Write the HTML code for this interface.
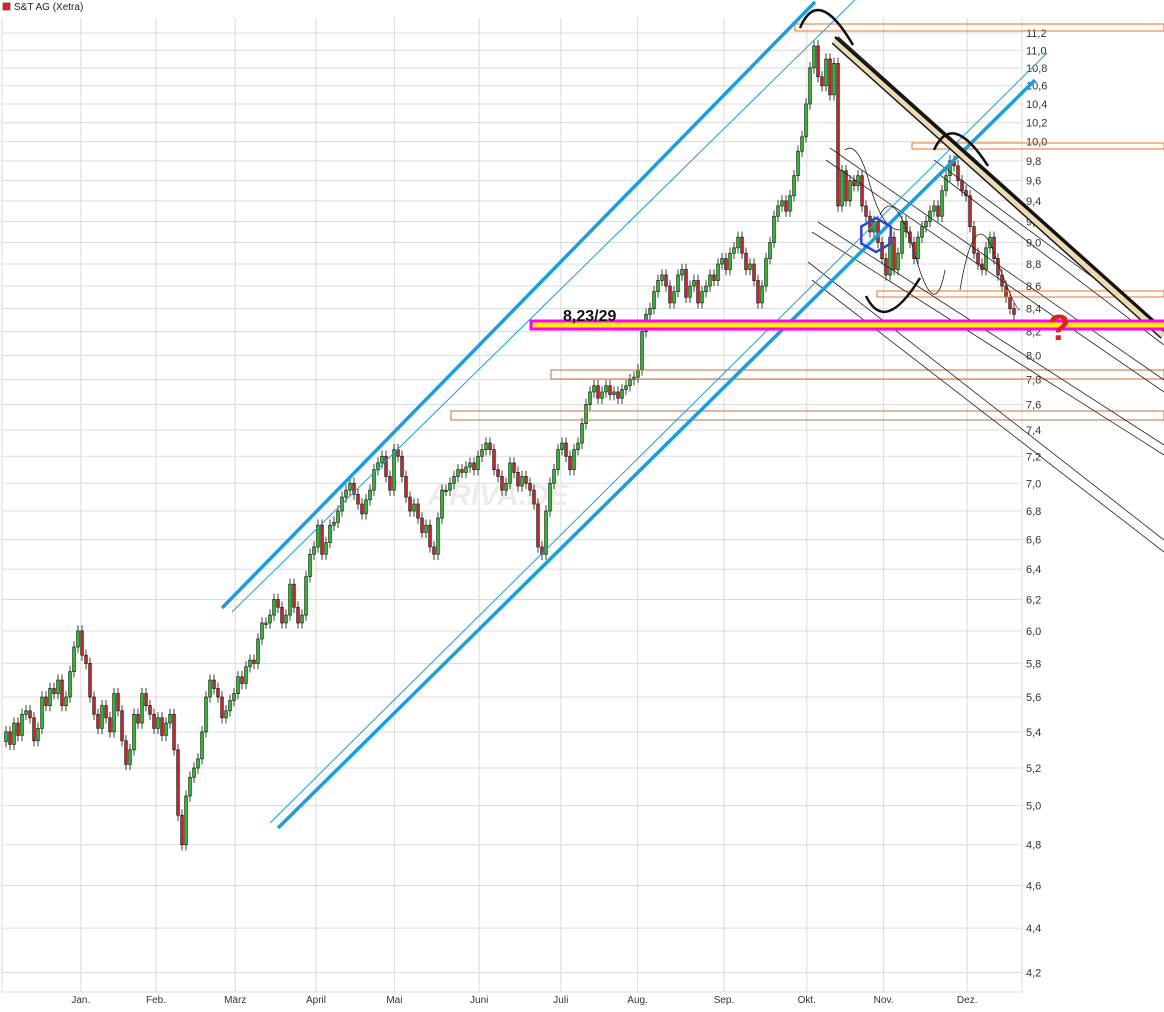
<!DOCTYPE html>
<html><head><meta charset="utf-8"><style>
body{margin:0;background:#fff;}
svg{display:block;font-family:"Liberation Sans",sans-serif;}
</style></head><body>
<svg id="c" width="1164" height="1012" xmlns="http://www.w3.org/2000/svg"></svg>
<script>
const closes=[5.40,5.33,5.45,5.38,5.50,5.52,5.48,5.35,5.42,5.60,
5.55,5.65,5.62,5.70,5.55,5.60,5.75,5.90,6.00,5.85,
5.80,5.60,5.50,5.42,5.55,5.48,5.40,5.62,5.52,5.35,
5.22,5.30,5.50,5.45,5.62,5.55,5.50,5.42,5.48,5.38,
5.45,5.50,5.30,4.95,4.80,5.05,5.15,5.20,5.25,5.40,
5.60,5.70,5.65,5.60,5.48,5.52,5.58,5.62,5.72,5.68,
5.78,5.82,5.80,5.95,6.05,6.05,6.10,6.20,6.15,6.05,
6.10,6.30,6.15,6.05,6.10,6.35,6.50,6.55,6.70,6.50,
6.58,6.70,6.72,6.80,6.90,6.95,7.00,6.92,6.85,6.78,
6.88,6.95,7.10,7.15,7.20,7.05,6.95,7.25,7.20,7.05,
6.90,6.80,6.85,6.75,6.65,6.70,6.55,6.50,6.75,6.95,
6.95,7.00,7.05,7.10,7.08,7.12,7.15,7.10,7.20,7.25,
7.30,7.25,7.10,7.05,6.95,7.00,7.15,7.08,6.98,7.05,
7.00,6.95,6.85,6.55,6.50,6.80,7.00,7.10,7.25,7.30,
7.20,7.10,7.25,7.30,7.45,7.60,7.70,7.75,7.65,7.70,
7.75,7.68,7.70,7.65,7.72,7.75,7.80,7.82,7.88,8.20,
8.35,8.40,8.55,8.65,8.70,8.60,8.45,8.55,8.70,8.75,
8.50,8.60,8.65,8.45,8.55,8.60,8.70,8.65,8.80,8.85,
8.75,8.90,8.95,9.05,8.90,8.75,8.80,8.65,8.45,8.60,
8.85,9.00,9.25,9.35,9.40,9.30,9.45,9.65,9.90,10.05,
10.40,10.80,11.05,10.70,10.60,10.90,10.50,10.85,9.35,9.70,
9.40,9.60,9.55,9.65,9.35,9.25,9.10,9.20,9.00,8.85,
8.70,9.05,8.75,8.90,9.20,9.10,9.00,8.85,9.05,9.15,
9.20,9.30,9.35,9.25,9.50,9.65,9.80,9.75,9.60,9.50,
9.45,9.15,8.90,8.80,8.75,8.95,9.05,8.85,8.70,8.60,
8.50,8.40,8.35];
const yTicks=[4.2,4.4,4.6,4.8,5.0,5.2,5.4,5.6,5.8,6.0,6.2,6.4,6.6,6.8,7.0,7.2,7.4,7.6,7.8,8.0,8.2,8.4,8.6,8.8,9.0,9.2,9.4,9.6,9.8,10.0,10.2,10.4,10.6,10.8,11.0,11.2];
const months=["Jan.","Feb.","März","April","Mai","Juni","Juli","Aug.","Sep.","Okt.","Nov.","Dez."];
const monthStartIdx=[19.2,38,57.8,78,97.6,118.8,139.2,158.4,180,200.7,219.9,240.8];

const NS="http://www.w3.org/2000/svg";
const svg=document.getElementById('c');
function y(v){return 33+(Math.log(11.2)-Math.log(v))*958;}
function x(i){return 6+i*(1014-6)/(closes.length-1);}
function mk(t,a,p){const e=document.createElementNS(NS,t);for(const k in a)e.setAttribute(k,a[k]);(p||svg).appendChild(e);return e;}
function fmt(v){return v.toFixed(1).replace('.',',');}

for(const v of yTicks){
  const g=mk('line',{x1:2,x2:1022,y1:y(v),y2:y(v),stroke:'#dcdcdc','stroke-width':1});
  
  
  const t=mk('text',{x:1026,y:y(v)+4,'font-size':11,fill:'#333'});t.textContent=fmt(v);
  
  
}
mk('line',{x1:2,x2:2,y1:18,y2:992,stroke:'#dcdcdc'});
mk('line',{x1:1022,x2:1022,y1:18,y2:992,stroke:'#dcdcdc'});
mk('line',{x1:2,x2:1022,y1:992,y2:992,stroke:'#dcdcdc'});
months.forEach((m,k)=>{
  const xx=x(monthStartIdx[k])-2;
  const g=mk('line',{x1:xx,x2:xx,y1:18,y2:992,stroke:'#dcdcdc'});
  
  
  const t=mk('text',{x:xx,y:1003,'font-size':10,fill:'#333','text-anchor':'middle'});t.textContent=m;
  
  
});
const wm=mk('text',{x:498,y:505,'font-size':30,'font-weight':'bold','font-style':'italic',fill:'#ececec','text-anchor':'middle'});wm.textContent='ARIVA.DE';



for(let i=0;i<closes.length;i++){
  const c=closes[i],o=i?closes[i-1]:c*0.99;
  const hi=Math.max(o,c)*1.006,lo=Math.min(o,c)*0.994;
  const xx=x(i);
  const w=mk('line',{x1:xx,x2:xx,y1:y(hi),y2:y(lo),stroke:'#111','stroke-width':0.8});
  
  
  const top=y(Math.max(o,c)),h=Math.max(1.5,y(Math.min(o,c))-top);
  const r=mk('rect',{x:xx-1.3,y:top,width:2.6,height:h,fill:c>=o?'#22cc22':'#dd2222',stroke:'#111','stroke-width':0.7});
  
  
}

function L(a,b,c,d,col,w,name){const e=mk('line',{x1:a,y1:b,x2:c,y2:d,stroke:col,'stroke-width':w});}
function R(a,b,c,d,col,name){const e=mk('rect',{x:a,y:b,width:c-a,height:d-b,fill:'none',stroke:col,'stroke-width':1});}
R(795,24,1164,31,'#f07020','resistance-zone-11');
R(912,143,1164,149,'#f07020','resistance-zone-10');
R(877,291,1164,297,'#f07020','support-zone-8-5');
R(551,370,1164,379,'#c07040','support-zone-7-8');
R(451,411,1164,420,'#c07040','support-zone-7-5');
[[830,148,1164,380],[826,160,1164,392],[818,222,1164,445],[812,232,1164,455],[808,262,1164,540],[812,280,1164,552],[934,160,1164,330],[940,175,1164,345]].forEach(p=>L(...p,'#222',0.8,'trend-line-thin'));
L(222,608,815,2,'#1a9ee0',3.5,'upper-channel-line');
L(232,612,855,0,'#1a9ee0',1,'upper-channel-thin');
L(278,828,1035,80,'#1a9ee0',3.5,'lower-channel-line');
L(270,823,1047,53,'#1a9ee0',1,'lower-channel-thin');
L(835,40,1164,335,'#1a1a1a',10,'resistance-band-edge');
L(835,40,1164,335,'#ecdcb4',7,'resistance-band');
L(835,37,1164,331,'#111',2.5,'resistance-line');
function P(d,name,col,w){const e=mk('path',{d:d,fill:'none',stroke:col||'#111','stroke-width':w||2.5});}
P('M800,28 Q818,-15 853,45','top-arc-1');
P('M934,150 Q952,110 988,166','top-arc-2');
P('M866,296 Q885,335 920,278','bottom-arc');
P('M845,150 Q858,140 870,185 T900,230','wave','#222',0.8);
P('M880,215 Q895,185 915,255 T945,270','wave','#222',0.8);
P('M960,290 Q975,200 995,255 T1020,310','wave','#222',0.8);
{let pts=[];for(let k=0;k<6;k++){const a=Math.PI/3*k+Math.PI/6;pts.push((876+17*Math.cos(a)).toFixed(1)+','+(235+17*Math.sin(a)).toFixed(1));}
const hx=mk('polygon',{points:pts.join(' '),fill:'none',stroke:'#3344cc','stroke-width':2.5});}
const mb=mk('rect',{x:531,y:321,width:640,height:8,fill:'#ffee00',stroke:'#ff00ff','stroke-width':3});


const lb=mk('text',{x:563,y:321,'font-size':16,'font-weight':'bold',fill:'#111'});lb.textContent='8,23/29';


const q=mk('text',{x:1048,y:340,'font-size':36,'font-weight':'bold',fill:'#e02020'});q.textContent='?';


const sq=mk('rect',{x:3,y:3,width:7,height:7,fill:'#dd2222',stroke:'#555','stroke-width':0.8});


const tt=mk('text',{x:14,y:10,'font-size':10,fill:'#222'});tt.textContent='S&T AG (Xetra)';


</script>
</body></html>
